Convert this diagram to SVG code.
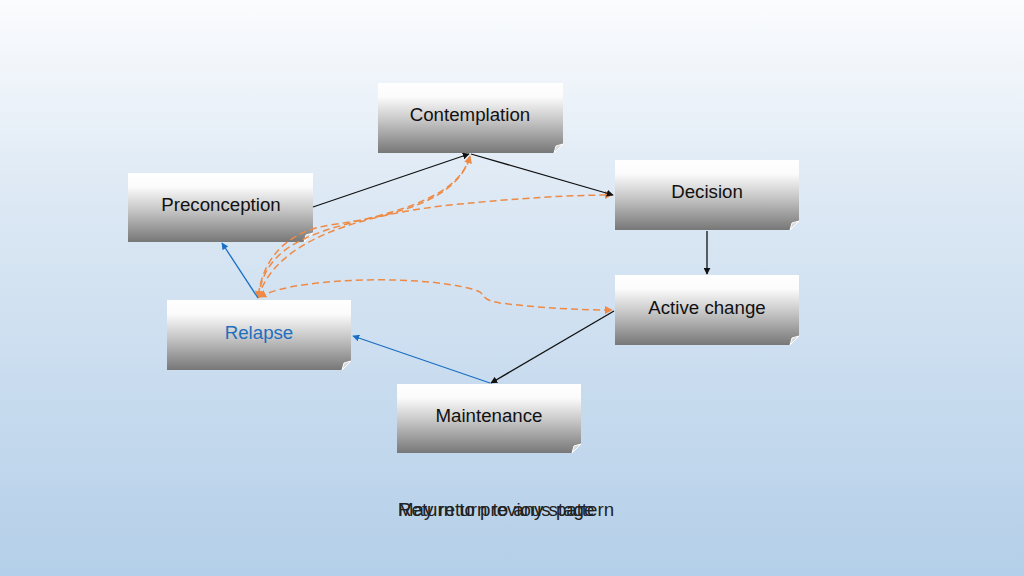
<svg xmlns="http://www.w3.org/2000/svg" width="1024" height="576" viewBox="0 0 1024 576">
<defs>
<linearGradient id="bg" x1="0" y1="0" x2="0" y2="1">
<stop offset="0" stop-color="#fbfcfe"/>
<stop offset="0.35" stop-color="#dce8f4"/>
<stop offset="1" stop-color="#b4cfe9"/>
</linearGradient>
<linearGradient id="box" x1="0" y1="0" x2="0" y2="1">
<stop offset="0" stop-color="#ffffff"/>
<stop offset="0.2" stop-color="#fbfbfb"/>
<stop offset="0.55" stop-color="#c4c4c4"/>
<stop offset="1" stop-color="#777777"/>
</linearGradient>
<marker id="ab" viewBox="0 0 10 10" refX="9" refY="5" markerWidth="7" markerHeight="7" orient="auto-start-reverse" markerUnits="userSpaceOnUse">
<path d="M0,0 L10,5 L0,10 z" fill="#111"/>
</marker>
<marker id="abl" viewBox="0 0 10 10" refX="9" refY="5" markerWidth="7" markerHeight="7" orient="auto-start-reverse" markerUnits="userSpaceOnUse">
<path d="M0,0 L10,5 L0,10 z" fill="#1a6fc4"/>
</marker>
<marker id="ao" viewBox="0 0 10 10" refX="9" refY="5" markerWidth="8" markerHeight="8" orient="auto-start-reverse" markerUnits="userSpaceOnUse">
<path d="M0,0 L10,5 L0,10 z" fill="#ee8a45"/>
</marker>
</defs>
<style>
.box{fill:url(#box);}
.curl{fill:#d8d8d8;stroke:#ffffff;stroke-width:1;}
.lbl{font-family:"Liberation Sans",Arial,sans-serif;font-size:18.7px;fill:#111;text-anchor:middle;}
.blk{stroke:#111;stroke-width:1.3;fill:none;marker-end:url(#ab);}
.blu{stroke:#1a6fc4;stroke-width:1.3;fill:none;marker-end:url(#abl);}
.org{stroke:#ee8a45;stroke-width:1.5;fill:none;stroke-dasharray:7,4;}
.note{font-family:"Liberation Sans",Arial,sans-serif;font-size:18.7px;fill:#222;}
</style>
<rect width="1024" height="576" fill="url(#bg)"/>

<g id="contemplation">
<path class="box" d="M378,83 H563 V144 L554,153 H378 Z"/>
<path class="curl" d="M563,144 L554,153 L556,146 Z"/>
<text class="lbl" x="470" y="121">Contemplation</text>
</g>
<g id="preconception">
<path class="box" d="M128,173 H313 V233 L304,242 H128 Z"/>
<path class="curl" d="M313,233 L304,242 L306,235 Z"/>
<text class="lbl" x="221" y="211">Preconception</text>
</g>
<g id="decision">
<path class="box" d="M615,160 H799 V221 L790,230 H615 Z"/>
<path class="curl" d="M799,221 L790,230 L792,223 Z"/>
<text class="lbl" x="707" y="198">Decision</text>
</g>
<g id="active-change">
<path class="box" d="M615,275 H799 V336 L790,345 H615 Z"/>
<path class="curl" d="M799,336 L790,345 L792,338 Z"/>
<text class="lbl" x="707" y="314">Active change</text>
</g>
<g id="relapse">
<path class="box" d="M167,300 H351 V361 L342,370 H167 Z"/>
<path class="curl" d="M351,361 L342,370 L344,363 Z"/>
<text class="lbl" x="259" y="339" style="fill:#1f6fbf">Relapse</text>
</g>
<g id="maintenance">
<path class="box" d="M397,384 H581 V444 L572,453 H397 Z"/>
<path class="curl" d="M581,444 L572,453 L574,446 Z"/>
<text class="lbl" x="489" y="422">Maintenance</text>
</g>

<g id="connectors">
<path class="org" d="M258,298 C265,250 300,235 370,218 C430,203 462,185 470,156" marker-end="url(#ao)"/>
<path class="org" d="M470,158 C455,200 400,215 330,225 C285,232 262,260 258,298" marker-end="url(#ao)"/>
<path class="org" d="M258,298 C275,240 360,215 450,205 C520,198 570,195 612,195" marker-end="url(#ao)"/>
<path class="org" d="M259,297 C300,275 440,275 480,292 C485,296 482,300 500,303 C540,308 580,310 612,310" marker-start="url(#ao)" marker-end="url(#ao)"/>
<path class="blk" d="M313,207 L469,154"/>
<path class="blk" d="M471,154 L613,195"/>
<path class="blk" d="M707,231 L707,274"/>
<path class="blk" d="M614,311 L491,383"/>
<path class="blu" d="M490,383 L353,336"/>
<path class="blu" d="M258,298 L222,243"/>
</g>

<text class="note" x="398" y="516">May return to any stage</text>
<text class="note" x="398" y="516">Return to previous pattern</text>
</svg>
